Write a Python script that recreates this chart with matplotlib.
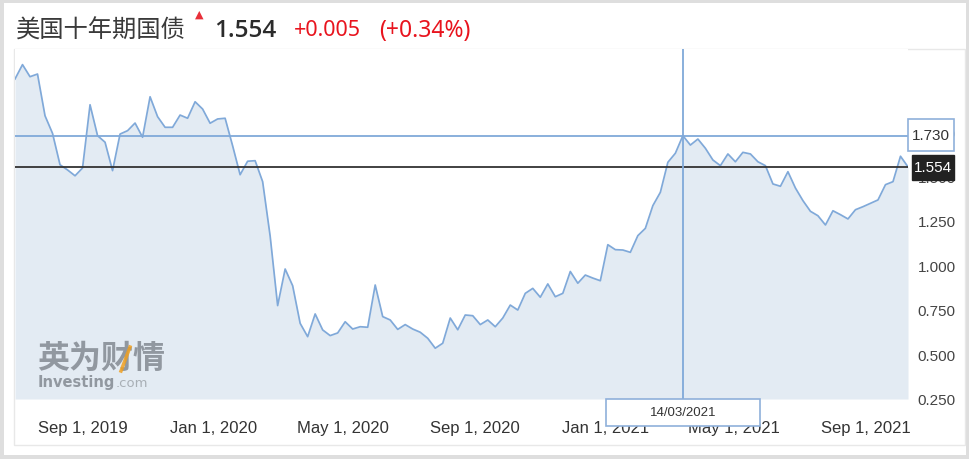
import matplotlib
matplotlib.use("Agg")
import matplotlib.pyplot as plt
from matplotlib.patches import Rectangle
from matplotlib.lines import Line2D
import pandas as pd

# ---------------- data ----------------
title_name = "美国十年期国债"
last_price = "1.554"
change_abs = "+0.005"
change_pct = "(+0.34%)"

start_date = "2019-06-30"   # weekly observations (Sundays)
yields = [
    2.049, 2.130, 2.062, 2.077, 1.842, 1.743, 1.566, 1.537, 1.504, 1.548,
    1.904, 1.730, 1.693, 1.533, 1.739, 1.758, 1.801, 1.721, 1.949, 1.837,
    1.777, 1.777, 1.846, 1.828, 1.921, 1.880, 1.800, 1.824, 1.828, 1.673,
    1.510, 1.586, 1.589, 1.471, 1.165, 0.773, 0.979, 0.885, 0.673, 0.598,
    0.726, 0.636, 0.604, 0.619, 0.682, 0.641, 0.654, 0.651, 0.889, 0.711,
    0.692, 0.639, 0.666, 0.641, 0.623, 0.589, 0.533, 0.561, 0.703, 0.637,
    0.720, 0.716, 0.666, 0.692, 0.654, 0.703, 0.776, 0.748, 0.842, 0.870,
    0.820, 0.895, 0.823, 0.842, 0.965, 0.899, 0.945, 0.928, 0.913, 1.116,
    1.088, 1.086, 1.073, 1.167, 1.208, 1.336, 1.411, 1.580, 1.631, 1.730,
    1.677, 1.711, 1.659, 1.593, 1.561, 1.627, 1.583, 1.636, 1.627, 1.583,
    1.561, 1.458, 1.445, 1.527, 1.435, 1.364, 1.304, 1.279, 1.227, 1.307,
    1.285, 1.261, 1.313, 1.330, 1.349, 1.368, 1.454, 1.471, 1.614, 1.554,
]
dates = pd.date_range(start_date, periods=len(yields), freq="W-SUN")

ytick_values = [0.25, 0.50, 0.75, 1.00, 1.25, 1.50, 1.75]
xtick_dates = ["2019-09-01", "2020-01-01", "2020-05-01", "2020-09-01",
               "2021-01-01", "2021-05-01", "2021-09-01"]
cross_date = "2021-03-14"
cross_value = 1.730
cross_label = "14/03/2021"
current_value = 1.554

# ---------------- figure ----------------
W, H = 970, 460
fig = plt.figure(figsize=(W / 100, H / 100), dpi=100, facecolor="#dedede")

def fx(x):
    return x / W

def fy(y):
    return 1 - y / H

# white card
fig.patches.append(Rectangle((fx(4), fy(456)), fx(962), 452 / H,
                             transform=fig.transFigure, facecolor="white",
                             edgecolor="none", zorder=-10))
# chart panel border
fig.patches.append(Rectangle((fx(14), fy(446)), fx(951), 396 / H,
                             transform=fig.transFigure, facecolor="none",
                             edgecolor="#e8e8e8", lw=1, zorder=-5))

left, right, top, bottom = 15, 908, 50, 400
ax = fig.add_axes([fx(left), fy(bottom), fx(right - left), (bottom - top) / H])
ax.set_facecolor("white")

line_color = "#80a9d9"
fill_color = "#e3ebf3"
ymin, ymax = 0.247, 2.218

ax.fill_between(dates, yields, ymin, color=fill_color, lw=0, zorder=1)
ax.plot(dates, yields, color=line_color, lw=1.25, zorder=3)

ax.set_xlim(dates[0], dates[-1])
ax.set_ylim(ymin, ymax)

# reference lines
ax.axhline(cross_value, color="#80a9d9", lw=1.3, zorder=4)
ax.axhline(current_value, color="#333333", lw=1.3, zorder=4)
ax.axvline(pd.Timestamp(cross_date), color="#80a9d9", lw=1.3, zorder=4)

for s in ax.spines.values():
    s.set_visible(False)

ax.yaxis.tick_right()
ax.set_yticks(ytick_values)
ax.set_yticklabels([f"{v:.3f}" for v in ytick_values])
ax.tick_params(axis="y", length=0, pad=7, labelsize=11, labelcolor="#444444")

xt = [pd.Timestamp(d) for d in xtick_dates]
ax.set_xticks(xt)
ax.set_xticklabels([d.strftime("%b ") + str(d.day) + d.strftime(", %Y") for d in xt])
ax.tick_params(axis="x", length=0, pad=15, labelsize=12, labelcolor="#333333")
for lab in ax.get_xticklabels() + ax.get_yticklabels():
    lab.set_family("Liberation Sans")

# extend crosshair below the plot to the date box
fig.lines.append(Line2D([fx(683), fx(683)], [fy(400), fy(402)],
                        transform=fig.transFigure, color="#80a9d9", lw=1.3))

# value boxes on the right
fig.patches.append(Rectangle((fx(908), fy(152)), fx(46), 32 / H,
                             transform=fig.transFigure, facecolor="white",
                             edgecolor="#8fb0da", lw=1.2, zorder=5))
fig.text(fx(931), fy(136), f"{cross_value:.3f}", ha="center", va="center",
         fontsize=11, color="#333333", family="Liberation Sans", zorder=6)
fig.patches.append(Rectangle((fx(912), fy(181)), fx(42), 25 / H,
                             transform=fig.transFigure, facecolor="#222222",
                             edgecolor="#222222", lw=1, zorder=5))
fig.text(fx(933), fy(168.5), f"{current_value:.3f}", ha="center", va="center",
         fontsize=11, color="white", family="Liberation Sans", zorder=6)

# date box
fig.patches.append(Rectangle((fx(606), fy(427)), fx(154), 27 / H,
                             transform=fig.transFigure, facecolor="white",
                             edgecolor="#8fb0da", lw=1.2, zorder=5))
fig.text(fx(683), fy(413), cross_label, ha="center", va="center",
         fontsize=9.5, color="#333333", family="Liberation Sans", zorder=6)

# header
cjk = ["Noto Sans CJK SC", "DejaVu Sans"]
fig.text(fx(16), fy(31), title_name, ha="left", va="center", fontsize=17.5,
         color="#3a3a3a", family=cjk)
fig.text(fx(199), fy(15), "\u25B2", ha="center", va="center", fontsize=8,
         color="#e8303a", family="DejaVu Sans")
fig.text(fx(214), fy(31), last_price, ha="left", va="center", fontsize=17.5,
         color="#2b2b2b", family="Open Sans", fontweight="semibold")
fig.text(fx(294), fy(31), change_abs, ha="left", va="center", fontsize=15.5,
         color="#e8141e", family="Noto Sans")
fig.text(fx(379), fy(31), change_pct, ha="left", va="center", fontsize=16.5,
         color="#e8141e", family="Noto Sans")

# watermark
fig.text(fx(37), fy(359), "英为财情", ha="left", va="center", fontsize=23,
         color="#7d838b", alpha=0.8, family=cjk, fontweight="bold", zorder=6)
fig.lines.append(Line2D([fx(121), fx(130)], [fy(372), fy(348)],
                        transform=fig.transFigure, color="#f0a020", lw=2.5,
                        alpha=0.85, zorder=7))
fig.text(fx(38), fy(383), "Investing", ha="left", va="center", fontsize=10.5,
         color="#7d838b", alpha=0.8, family="DejaVu Sans", fontweight="bold", zorder=6)
fig.text(fx(116), fy(384), ".com", ha="left", va="center", fontsize=9.5,
         color="#9aa0a6", alpha=0.8, family="DejaVu Sans", zorder=6)

fig.savefig("out.png", dpi=100, facecolor=fig.get_facecolor())
